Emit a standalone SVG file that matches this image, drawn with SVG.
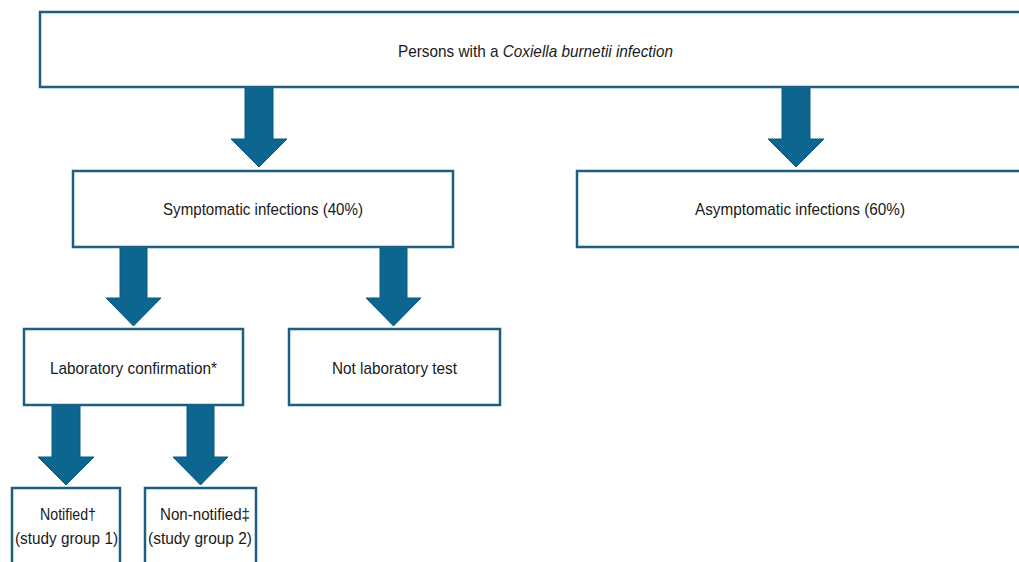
<svg xmlns="http://www.w3.org/2000/svg" width="1019" height="562" viewBox="0 0 1019 562">
<style>
.box{fill:#ffffff;stroke:#1d5f80;stroke-width:2.5}
.arr{fill:#0d6690;stroke:#0a5a80;stroke-width:1}
.t{font-family:"Liberation Sans",Arial,sans-serif;font-size:17px;fill:#1a1a1a;text-anchor:middle}
.i{font-style:italic}
</style>
<rect width="1019" height="562" fill="#ffffff"/>
<g id="connectors">
<path class="arr" d="M245,88 H273 V139 H287 L259,167 L231,139 H245 Z"/>
<path class="arr" d="M782,88 H810 V139 H824 L796,167 L768,139 H782 Z"/>
<path class="arr" d="M120,248 H147 V298 H161 L133.5,326 L106,298 H120 Z"/>
<path class="arr" d="M380,248 H407 V298 H421 L393.5,326 L366,298 H380 Z"/>
<path class="arr" d="M52,406 H80 V457 H94 L66,485 L38,457 H52 Z"/>
<path class="arr" d="M187,406 H214 V457 H228 L200.5,485 L173,457 H187 Z"/>
</g>
<g id="node-persons">
<rect class="box" x="40" y="12" width="992" height="75"/>
<text class="t" x="535.5" y="57" textLength="275" lengthAdjust="spacingAndGlyphs">Persons with a <tspan class="i">Coxiella burnetii infection</tspan></text>
</g>
<g id="node-symptomatic">
<rect class="box" x="73" y="171" width="380" height="76"/>
<text class="t" x="263" y="215" textLength="200" lengthAdjust="spacingAndGlyphs">Symptomatic infections (40%)</text>
</g>
<g id="node-asymptomatic">
<rect class="box" x="577" y="171" width="446" height="76"/>
<text class="t" x="800" y="215" textLength="210" lengthAdjust="spacingAndGlyphs">Asymptomatic infections (60%)</text>
</g>
<g id="node-lab">
<rect class="box" x="24" y="329" width="219" height="76"/>
<text class="t" x="133.5" y="374" textLength="167" lengthAdjust="spacingAndGlyphs">Laboratory confirmation*</text>
</g>
<g id="node-notlab">
<rect class="box" x="289" y="329" width="211" height="76"/>
<text class="t" x="394.5" y="374" textLength="125" lengthAdjust="spacingAndGlyphs">Not laboratory test</text>
</g>
<g id="node-notified">
<rect class="box" x="12" y="488" width="108" height="90"/>
<text class="t" x="68" y="520" textLength="56" lengthAdjust="spacingAndGlyphs">Notified†</text>
<text class="t" x="66.5" y="544" textLength="103" lengthAdjust="spacingAndGlyphs">(study group 1)</text>
</g>
<g id="node-nonnotified">
<rect class="box" x="145" y="488" width="111" height="90"/>
<text class="t" x="205" y="520" textLength="90" lengthAdjust="spacingAndGlyphs">Non-notified‡</text>
<text class="t" x="200" y="544" textLength="104" lengthAdjust="spacingAndGlyphs">(study group 2)</text>
</g>
</svg>
